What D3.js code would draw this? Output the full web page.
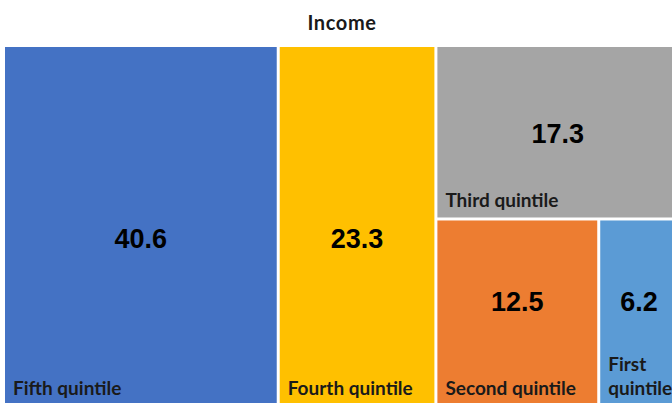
<!DOCTYPE html>
<html>
<head>
<meta charset="utf-8">
<script src="https://cdn.jsdelivr.net/npm/d3@7"></script>
<style>
html,body{margin:0;padding:0;background:#fff;overflow:hidden;}
</style>
</head>
<body>
<svg id="chart" width="672" height="403"></svg>
<script>
const title = "Income";
const categories = ["Fifth quintile", "Fourth quintile", "Third quintile", "Second quintile", "First quintile"];
const values = [40.6, 23.3, 17.3, 12.5, 6.2];
const colors = ["#4472C4", "#FFC000", "#A5A5A5", "#ED7D31", "#5B9BD5"];

(function() {
const svg = d3.select("#chart");
const mLeft = 5, mTop = 47, tw = 673, th = 358;

svg.append("text")
  .attr("x", 342).attr("y", 30)
  .attr("text-anchor", "middle")
  .attr("font-family", "Lato, 'Open Sans', sans-serif")
  .attr("font-weight", "bold")
  .attr("font-size", 20)
  .attr("letter-spacing", 0.6)
  .attr("fill", "#1a1a1a")
  .text(title);

const leaf = (i) => ({name: categories[i], value: values[i], color: colors[i]});
const treeData = {
  name: "root",
  children: [
    leaf(0), leaf(1),
    {name: "g1", children: [leaf(2), {name: "g2", children: [leaf(3), leaf(4)]}]}
  ]
};

const root = d3.hierarchy(treeData).sum(d => d.children ? 0 : d.value);
d3.treemap().tile(d3.treemapSliceDice).size([tw, th]).paddingInner(3).round(false)(root);

const g = svg.append("g").attr("transform", `translate(${mLeft},${mTop})`);
const leaves = root.leaves();
const valueOffset = {"Fifth quintile": 0.534, "Fourth quintile": 0.534, "Third quintile": 0.504, "Second quintile": 0.436, "First quintile": 0.436};
const nameLines = {"First quintile": ["First", "quintile"]};

const cell = g.selectAll("g.cell").data(leaves).join("g").attr("class", "cell");
cell.append("rect")
  .attr("x", d => d.x0).attr("y", d => d.y0)
  .attr("width", d => d.x1 - d.x0).attr("height", d => d.y1 - d.y0)
  .attr("fill", d => d.data.color);

cell.append("text")
  .attr("x", d => (d.x0 + d.x1) / 2)
  .attr("y", d => d.y0 + (d.y1 - d.y0) * valueOffset[d.data.name])
  .attr("dy", "0.36em")
  .attr("text-anchor", "middle")
  .attr("font-family", "Liberation Sans, Arial, sans-serif")
  .attr("font-weight", "bold")
  .attr("font-size", 27)
  .attr("fill", "#000")
  .text(d => d.data.value.toFixed(1));

cell.each(function(d) {
  const lines = nameLines[d.data.name] || [d.data.name];
  const t = d3.select(this).append("text")
    .attr("font-family", "Lato, 'Open Sans', sans-serif")
    .attr("font-weight", "bold")
    .attr("font-size", 19)
    .attr("fill", "#1a1a1a");
  const baseY = d.y1 - 10;
  lines.forEach((ln, i) => {
    t.append("tspan")
      .attr("x", d.x0 + 8)
      .attr("y", baseY - (lines.length - 1 - i) * 24)
      .text(ln);
  });
});
})();
</script>
</body>
</html>
